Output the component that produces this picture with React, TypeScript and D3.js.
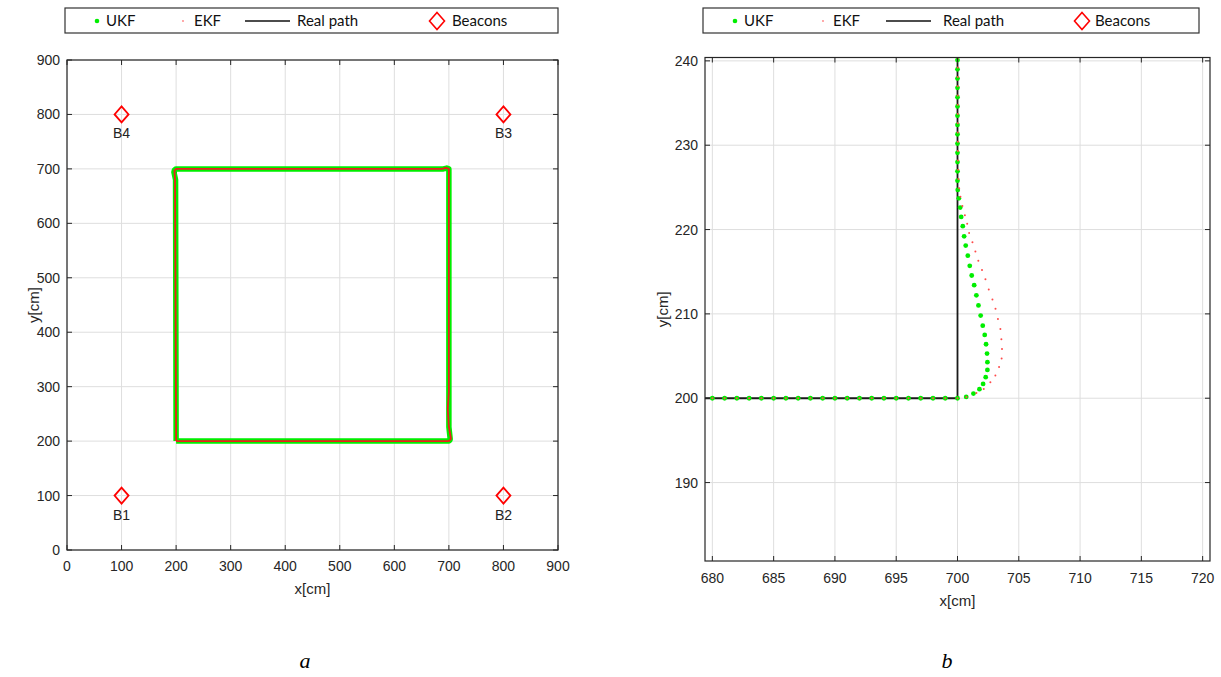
import * as React from 'react';
import * as d3 from 'd3';

// ---- data ----
const squareTicks = [0, 100, 200, 300, 400, 500, 600, 700, 800, 900];
const zoomXTicks = [680, 685, 690, 695, 700, 705, 710, 715, 720];
const zoomYTicks = [190, 200, 210, 220, 230, 240];

const beaconNames = ['B1', 'B2', 'B3', 'B4'];
const beaconX = [100, 800, 800, 100];
const beaconY = [100, 100, 800, 800];

const realSquare: [number, number][] = [[200, 200], [700, 200], [700, 700], [200, 700], [200, 200]];
const ukfSquare: [number, number][] = [
  [200, 200], [700, 200], [702, 202], [702.4, 204], [700, 226], [700, 700], [696, 701.5],
  [690, 700], [200, 700], [197, 698], [196, 694], [199, 680], [200, 200]
];
const ekfSquare: [number, number][] = [
  [200, 200], [700, 200], [703, 203], [703.6, 206], [700, 226], [698, 260], [700, 290], [700, 700],
  [694, 702], [688, 700], [200, 700], [197, 697], [198, 680], [200, 200]
];

const realZoom: [number, number][] = [[670, 200], [700, 200], [700, 250]];

const ukfZoom: [number, number][] = [
  [680, 200], [681, 200], [682, 200], [683, 200], [684, 200], [685, 200], [686, 200],
  [687, 200], [688, 200], [689, 200], [690, 200], [691, 200], [692, 200], [693, 200],
  [694, 200], [695, 200], [696, 200], [697, 200], [698, 200], [699, 200], [700, 200],
  [700.71, 200.16], [701.3, 200.55], [701.79, 201.07], [702.09, 201.7], [702.3, 202.5],
  [702.44, 203.36], [702.44, 204.27], [702.41, 205.3], [702.33, 206.4], [702.22, 207.5],
  [702.06, 208.6], [701.89, 209.8], [701.71, 211.0], [701.54, 212.2], [701.36, 213.4],
  [701.16, 214.55], [701.0, 215.7], [700.84, 216.9], [700.67, 218.1], [700.54, 219.2],
  [700.43, 220.4], [700.3, 221.5], [700.22, 222.6], [700.11, 223.7], [700.02, 224.7],
  [700.0, 225.8], [700, 226.9], [700, 228.0], [700, 229.1], [700, 230.2], [700, 231.3],
  [700, 232.4], [700, 233.5], [700, 234.6], [700, 235.7], [700, 236.8], [700, 237.9],
  [700, 239.0], [700, 240.1]
];

const ekfZoom: [number, number][] = [
  [680, 200], [681, 200], [682, 200], [683, 200], [684, 200], [685, 200], [686, 200],
  [687, 200], [688, 200], [689, 200], [690, 200], [691, 200], [692, 200], [693, 200],
  [694, 200], [695, 200], [696, 200], [697, 200], [698, 200], [699, 200], [700, 200],
  [700.73, 200.15], [701.54, 200.63], [702.14, 201.1], [702.68, 201.9], [703.09, 202.7],
  [703.39, 203.7], [703.6, 204.7], [703.63, 205.85], [703.58, 207.0], [703.5, 208.2],
  [703.3, 209.4], [703.1, 210.6], [702.85, 211.7], [702.55, 212.9], [702.28, 214.1],
  [702.0, 215.2], [701.7, 216.3], [701.46, 217.4], [701.22, 218.5], [700.95, 219.6],
  [700.79, 220.7], [700.6, 221.7], [700.4, 222.8], [700.24, 223.9], [700.14, 224.9],
  [700.08, 226.0], [700.05, 227.1], [700.04, 228.2], [700.03, 229.3], [700.03, 230.4],
  [700.02, 231.5], [700.02, 232.6], [700.02, 233.7], [700.02, 234.8], [700.02, 235.9],
  [700.02, 237.0], [700.02, 238.1], [700.02, 239.2], [700.02, 240.3]
];

const tickFont = '"Liberation Sans", Arial, Helvetica, sans-serif';
const legendFont = 'Lato, "Open Sans", sans-serif';
const axisColor = '#262626';
const gridColor = '#dedede';

function Legend({x, w, p}: {x: number; w: number; p: number[]}) {
  // p: ukf dot, ukf text, ekf dot, ekf text, line start, line end, real text, diamond, beacons text
  const y = 21;
  return (
    <g fontFamily={legendFont} fontSize={15} fill="#111">
      <rect x={x} y={8} width={w} height={25} fill="#fff" stroke="#333" strokeWidth={1.2} />
      <circle cx={p[0]} cy={y} r={2.3} fill="#00ee00" />
      <text x={p[1]} y={y + 5}>UKF</text>
      <circle cx={p[2]} cy={y} r={0.9} fill="#ff8080" />
      <text x={p[3]} y={y + 5}>EKF</text>
      <line x1={p[4]} x2={p[5]} y1={y} y2={y} stroke="#111" strokeWidth={1.3} />
      <text x={p[6]} y={y + 5}>Real path</text>
      <path d={`M${p[7]},${y - 8.5}L${p[7] + 7.5},${y}L${p[7]},${y + 8.5}L${p[7] - 7.5},${y}Z`}
            fill="none" stroke="#ff0000" strokeWidth={1.6} />
      <text x={p[8]} y={y + 5}>Beacons</text>
    </g>
  );
}

function Frame({xs, ys, xTicks, yTicks, id, children, xLabelY, yLabelX, labelOffsetY}: any) {
  const [l, r] = xs.range();
  const [b, t] = ys.range();
  return (
    <g>
      <defs>
        <clipPath id={id}><rect x={l} y={t} width={r - l} height={b - t} /></clipPath>
      </defs>
      <rect x={l} y={t} width={r - l} height={b - t} fill="#fff" />
      {xTicks.map((v: number) => (
        <line key={'gx' + v} x1={xs(v)} x2={xs(v)} y1={t} y2={b} stroke={gridColor} strokeWidth={1} />
      ))}
      {yTicks.map((v: number) => (
        <line key={'gy' + v} x1={l} x2={r} y1={ys(v)} y2={ys(v)} stroke={gridColor} strokeWidth={1} />
      ))}
      <g clipPath={`url(#${id})`}>{children}</g>
      <rect x={l} y={t} width={r - l} height={b - t} fill="none" stroke={axisColor} strokeWidth={1.2} />
      {xTicks.map((v: number) => (
        <g key={'tx' + v}>
          <line x1={xs(v)} x2={xs(v)} y1={b} y2={b - 5} stroke={axisColor} />
          <line x1={xs(v)} x2={xs(v)} y1={t} y2={t + 5} stroke={axisColor} />
          <text x={xs(v)} y={b + labelOffsetY} textAnchor="middle" fontFamily={tickFont} fontSize={14} fill={axisColor}>{v}</text>
        </g>
      ))}
      {yTicks.map((v: number) => (
        <g key={'ty' + v}>
          <line x1={l} x2={l + 5} y1={ys(v)} y2={ys(v)} stroke={axisColor} />
          <line x1={r} x2={r - 5} y1={ys(v)} y2={ys(v)} stroke={axisColor} />
          <text x={l - 7} y={ys(v) + 5} textAnchor="end" fontFamily={tickFont} fontSize={14} fill={axisColor}>{v}</text>
        </g>
      ))}
      <text x={(l + r) / 2} y={xLabelY} textAnchor="middle" fontFamily={tickFont} fontSize={15} fill={axisColor}>x[cm]</text>
      <text transform={`translate(${yLabelX},${(t + b) / 2}) rotate(-90)`} textAnchor="middle"
            fontFamily={tickFont} fontSize={15} fill={axisColor}>y[cm]</text>
    </g>
  );
}

export default function App() {
  const xa = d3.scaleLinear().domain([0, 900]).range([67, 558]);
  const ya = d3.scaleLinear().domain([0, 900]).range([550, 60]);
  const lineA = d3.line<[number, number]>().x(d => xa(d[0])).y(d => ya(d[1]));

  const xb = d3.scaleLinear().domain([679.4, 720.6]).range([705, 1210]);
  const yb = d3.scaleLinear().domain([180.7, 240.4]).range([561, 57.5]);
  const lineB = d3.line<[number, number]>().x(d => xb(d[0])).y(d => yb(d[1]));

  return (
    <svg width={1221} height={677}
         style={{position: 'absolute', left: 0, top: 0, display: 'block', background: '#fff'}}>
      <Legend x={65} w={493} p={[97, 106, 183, 194, 245, 290, 297, 437, 452]} />
      <Legend x={703} w={496} p={[735, 744, 823, 833, 886, 931, 943, 1082, 1095]} />

      <Frame xs={xa} ys={ya} xTicks={squareTicks} yTicks={squareTicks} id="clipA"
             xLabelY={594} yLabelX={39} labelOffsetY={21}>
        <path d={lineA(realSquare) || ''} fill="none" stroke="#000" strokeWidth={1.5} />
        <path d={lineA(ukfSquare) || ''} fill="none" stroke="#00ee00" strokeWidth={5.5} strokeLinejoin="round" />
        <path d={lineA(ekfSquare) || ''} fill="none" stroke="#ee1c1c" strokeWidth={1.8} strokeLinejoin="round" />
        {beaconNames.map((n, i) => {
          const cx = xa(beaconX[i]);
          const cy = ya(beaconY[i]);
          return (
            <g key={n}>
              <path d={`M${cx},${cy - 8}L${cx + 7},${cy}L${cx},${cy + 8}L${cx - 7},${cy}Z`}
                    fill="none" stroke="#ff0000" strokeWidth={1.8} />
              <text x={cx} y={cy + 24} textAnchor="middle" fontFamily={tickFont} fontSize={14} fill="#222">{n}</text>
            </g>
          );
        })}
      </Frame>

      <Frame xs={xb} ys={yb} xTicks={zoomXTicks} yTicks={zoomYTicks} id="clipB"
             xLabelY={606} yLabelX={668} labelOffsetY={22}>
        <path d={lineB(realZoom) || ''} fill="none" stroke="#1a1a1a" strokeWidth={1.8} />
        {ukfZoom.map((d, i) => (
          <circle key={'u' + i} cx={xb(d[0])} cy={yb(d[1])} r={2.4} fill="#00ee00" />
        ))}
        {ekfZoom.map((d, i) => (
          <circle key={'e' + i} cx={xb(d[0])} cy={yb(d[1])} r={1} fill="#ff4a4a" />
        ))}
      </Frame>

      <text x={305} y={668} textAnchor="middle" fontFamily='"Liberation Serif", "Times New Roman", serif'
            fontStyle="italic" fontSize={22} fill="#000">a</text>
      <text x={947} y={668} textAnchor="middle" fontFamily='"Liberation Serif", "Times New Roman", serif'
            fontStyle="italic" fontSize={22} fill="#000">b</text>
    </svg>
  );
}
